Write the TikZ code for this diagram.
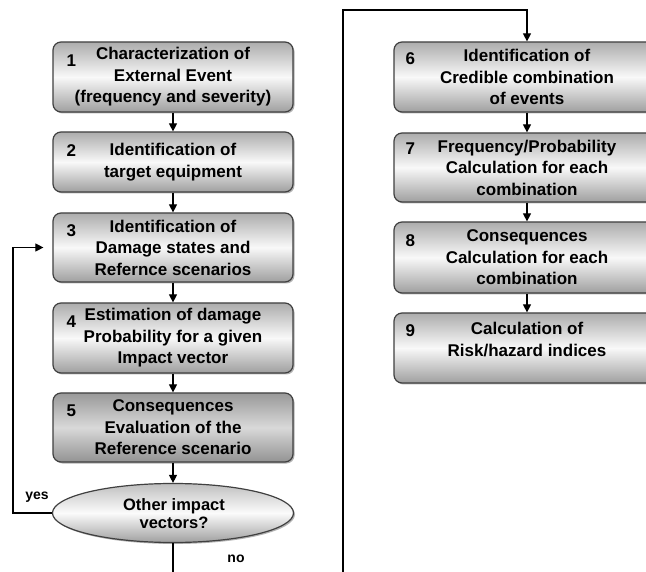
\documentclass[tikz,border=0pt]{standalone}
\usepackage{fontspec}
\setmainfont{Liberation Sans}
\usetikzlibrary{shapes.geometric,arrows.meta,shadows}
\newcommand{\boxfont}{\bfseries\fontsize{17}{21.5}\selectfont}
\newcommand{\ellfont}{\bfseries\fontsize{16.5}{18}\selectfont}
\begin{document}
\begin{tikzpicture}[x=1pt,y=-1pt,
  stepbox/.style={rectangle, rounded corners=8pt, draw=black!75, line width=1.2pt,
    top color=gray!65, bottom color=gray!75, middle color=gray!5,
    drop shadow={shadow xshift=1.5pt, shadow yshift=-1.5pt, opacity=0.6},
    align=center, inner sep=0pt, font=\boxfont},
  darkbox/.style={top color=gray!80, bottom color=gray!85, middle color=gray!30},
  leftbox/.style={stepbox, minimum width=240pt},
  rightbox/.style={stepbox, minimum width=266pt},
  num/.style={font=\boxfont, inner sep=0pt},
  decision/.style={ellipse, draw=black!75, line width=1.2pt,
    top color=gray!50, bottom color=gray!75, middle color=gray!3,
    drop shadow={shadow xshift=1.5pt, shadow yshift=-1.5pt, opacity=0.6},
    minimum width=241pt, minimum height=59pt, inner sep=0pt},
  elltext/.style={align=center, inner sep=0pt, font=\ellfont},
  lbl/.style={font=\bfseries\fontsize{14}{16}\selectfont, inner sep=0pt},
  conn/.style={line width=1.1pt, draw=black},
  arr/.style={conn, -{Triangle[width=8pt,length=8pt]}}
]
\useasboundingbox (0,0) rectangle (646,572);
\clip (0,0) rectangle (646,572);
\fill[white] (0,0) rectangle (646,572);

% left column
\node[leftbox, minimum height=70pt] (b1) at (173,77) {Characterization of\\External Event\\(frequency and severity)};
\node[leftbox, minimum height=60pt] (b2) at (173,162) {Identification of\\target equipment};
\node[leftbox, minimum height=69pt] (b3) at (173,247.5) {Identification of\\Damage states and\\Refernce scenarios};
\node[leftbox, minimum height=70pt] (b4) at (173,338) {Estimation of damage\\Probability for a given\\Impact vector};
\node[leftbox, darkbox, minimum height=69pt] (b5) at (173,427.5) {Consequences\\Evaluation of the\\Reference scenario};
\node[decision] (ell) at (173,513) {};
\node[elltext] (et) at (174,514) {Other impact\\vectors?};

% right column
\node[rightbox, minimum height=70pt] (b6) at (527,77) {Identification of\\Credible combination\\of events};
\node[rightbox, minimum height=69pt] (b7) at (527,167.5) {Frequency/Probability\\Calculation for each\\combination};
\node[rightbox, minimum height=71pt] (b8) at (527,257.5) {Consequences\\Calculation for each\\combination};
\node[rightbox, minimum height=70pt] (b9) at (527,348) {Calculation of\\Risk/hazard indices\\[-4pt]\mbox{}};

% numbers
\node[num] (n1) at ([xshift=19pt,yshift=-19pt]b1.north west) {1};
\node[num] (n2) at ([xshift=19pt,yshift=-19pt]b2.north west) {2};
\node[num] (n3) at ([xshift=19pt,yshift=-18pt]b3.north west) {3};
\node[num] (n4) at ([xshift=19pt,yshift=-19pt]b4.north west) {4};
\node[num] (n5) at ([xshift=19pt,yshift=-18pt]b5.north west) {5};
\node[num] (n6) at ([xshift=17pt,yshift=-17pt]b6.north west) {6};
\node[num] (n7) at ([xshift=17pt,yshift=-16pt]b7.north west) {7};
\node[num] (n8) at ([xshift=17pt,yshift=-19pt]b8.north west) {8};
\node[num] (n9) at ([xshift=17pt,yshift=-18pt]b9.north west) {9};

% arrows
\draw[arr] (b1) -- (b2);
\draw[arr] (b2) -- (b3);
\draw[arr] (b3) -- (b4);
\draw[arr] (b4) -- (b5);
\draw[arr] (b5) -- (ell);
\draw[arr] (b6) -- (b7);
\draw[arr] (b7) -- (b8);
\draw[arr] (b8) -- (b9);

% feedback loop
\coordinate (fb) at (13,513);
\draw[arr] (ell.west) -- (fb) |- ([xshift=-9pt]b3.west);
\node[lbl] (yes) at (37,497) {yes};

% no path to column 2
\coordinate (c1) at (173,590);
\coordinate (c2) at (343,590);
\coordinate (c3) at (343,10);
\coordinate (c4) at (527,10);
\draw[arr] (ell.south) -- (c1) -- (c2) -- (c3) -- (c4) -- (b6.north);
\node[lbl] (no) at (236,559) {no};
\end{tikzpicture}
\end{document}
